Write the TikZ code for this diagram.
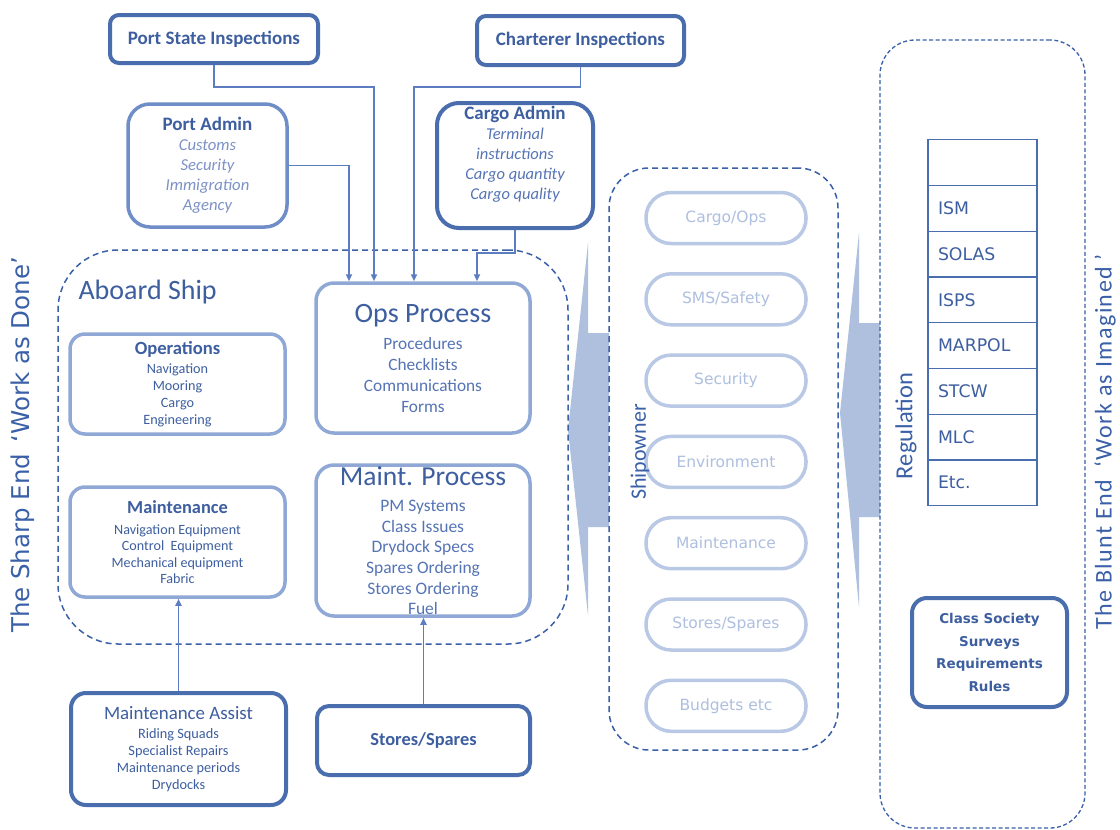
\documentclass[tikz,border=0pt]{standalone}
\usepackage{fontspec}
\setmainfont{Carlito}
\newfontfamily\verd{DejaVu Sans}
\newfontfamily\spaced[LetterSpace=6]{Carlito}
\usetikzlibrary{arrows.meta}
\definecolor{dkblue}{HTML}{4A6DAD}
\definecolor{mdblue}{HTML}{6F8DC6}
\definecolor{ltblue}{HTML}{8FA8D5}
\definecolor{pale}{HTML}{B9C8E5}
\definecolor{txtblue}{HTML}{3D5E9F}
\definecolor{itblue}{HTML}{7D92C6}
\definecolor{ctblue}{HTML}{5574B5}
\definecolor{palet}{HTML}{AEBFDF}
\definecolor{dashc}{HTML}{3A60A8}
\definecolor{fillc}{HTML}{AFC0DF}
\definecolor{linkc}{HTML}{5C7DBF}
\begin{document}
\begin{tikzpicture}[x=1pt,y=-1pt,
    box/.style={draw, line width=3.5pt, rounded corners=18pt, align=center, inner sep=0pt, text=txtblue},
    dkbox/.style={box, draw=dkblue, line width=4pt},
    ltbox/.style={box, draw=ltblue},
    pill/.style={draw=pale, line width=3.5pt, rounded corners=25pt, minimum width=160, minimum height=51,
      text=palet, font=\verd\fontsize{15.5}{18}\selectfont},
    cell/.style={draw=dkblue, line width=1.3pt, minimum width=109, minimum height=45.75, text width=89,
      inner xsep=10pt, align=left, text=txtblue, font=\verd\fontsize{17.3}{20}\selectfont},
    zone/.style={draw=dashc, line width=1.5pt, dash pattern=on 6pt off 4pt},
    link/.style={draw=linkc, line width=1.8pt, -{Triangle[length=7pt,width=6pt]}},
    side/.style={rotate=90, text=dashc}]
  \useasboundingbox (0,0) rectangle (1120,830);
  \fill[white] (0,0) rectangle (1120,830);
  \fill[fillc] (609,333) -- (588,333) -- (588,243) -- (568,430) -- (588,615) -- (588,527) -- (609,527) -- cycle;
  \fill[fillc] (880,323) -- (859,323) -- (859,233) -- (840,413) -- (859,607) -- (859,517) -- (880,517) -- cycle;
  \node[zone, rounded corners=60pt, minimum width=510, minimum height=394] (ship) at (313,447) {};
  \node[zone, rounded corners=40pt, minimum width=229, minimum height=582] (owner) at (723.5,459) {};
  \node[zone, line width=1.3pt, dash pattern=on 4pt off 2.5pt, rounded corners=35pt, minimum width=205, minimum height=788] (reg) at (982.5,434) {};
  \node[text=txtblue, anchor=west, font=\fontsize{28}{32}\selectfont] (shiplbl) at (75,292) {Aboard Ship};
  \node[dkbox, rounded corners=9pt, minimum width=208, minimum height=48, font=\bfseries\fontsize{19}{22}\selectfont] (psi) at (214,39) {Port State Inspections};
  \node[dkbox, rounded corners=9pt, minimum width=207, minimum height=49, font=\bfseries\fontsize{19}{22}\selectfont] (chi) at (580.5,40.5) {Charterer Inspections};
  \node[box, draw=mdblue, rounded corners=22pt, minimum width=159, minimum height=123, text=itblue, font=\itshape\fontsize{16.7}{20}\selectfont] (padm) at (207.5,165.5)
    {{\upshape\bfseries\color{txtblue}\fontsize{19}{20}\selectfont Port Admin}\\ Customs\\ Security\\ Immigration\\ Agency};
  \node[dkbox, rounded corners=22pt, minimum width=156, minimum height=125, text=ctblue, font=\itshape\fontsize{16.5}{20}\selectfont] (cadm) at (515,165.5)
    {{\upshape\bfseries\color{txtblue}\fontsize{19}{20}\selectfont Cargo Admin}\\ Terminal\\ instructions\\ Cargo quantity\\ Cargo quality\\ \strut};
  \node[ltbox, minimum width=214, minimum height=150, text=ctblue, font=\fontsize{17.3}{21}\selectfont] (ops) at (423,358)
    {{\color{txtblue}\fontsize{28}{30}\selectfont Ops Process}\\[6pt] Procedures\\ Checklists\\ Communications\\ Forms};
  \node[ltbox, minimum width=214, minimum height=151, text=ctblue, font=\fontsize{17.5}{20.6}\selectfont] (mproc) at (423,540.5)
    {{\color{txtblue}\fontsize{27.5}{30}\selectfont Maint. Process}\\[6pt] PM Systems\\ Class Issues\\ Drydock Specs\\ Spares Ordering\\ Stores Ordering\\ Fuel};
  \node[ltbox, rounded corners=15pt, minimum width=215, minimum height=100, font=\fontsize{14.2}{17}\selectfont] (oper) at (177.5,384)
    {{\bfseries\fontsize{18.6}{20}\selectfont Operations}\\[2pt] Navigation\\ Mooring\\ Cargo\\ Engineering};
  \node[ltbox, rounded corners=15pt, minimum width=215, minimum height=110, font=\fontsize{14.1}{16.5}\selectfont] (mnt) at (177.5,542)
    {{\bfseries\fontsize{18.4}{20}\selectfont Maintenance}\\[4.5pt] Navigation Equipment\\ Control\ \ Equipment\\ Mechanical equipment\\ Fabric};
  \node[dkbox, rounded corners=15pt, minimum width=215, minimum height=112, font=\fontsize{14.3}{17}\selectfont] (massist) at (178.5,749)
    {{\fontsize{18.9}{20}\selectfont Maintenance Assist}\\[2pt] Riding Squads\\ Specialist Repairs\\ Maintenance periods\\ Drydocks};
  \node[dkbox, rounded corners=12pt, minimum width=213, minimum height=69, font=\bfseries\fontsize{18.4}{22}\selectfont] (stores) at (423.5,740.5) {Stores/Spares};
  \node[dkbox, rounded corners=15pt, minimum width=155, minimum height=109, font=\verd\bfseries\fontsize{13.5}{22.7}\selectfont] (cls) at (989.5,652.5)
    {Class Society\\ Surveys\\ Requirements\\ Rules};
  \foreach \t [count=\i] in {Cargo/Ops,SMS/Safety,Security,Environment,Maintenance,Stores/Spares,Budgets etc}
    \node[pill] (so\i) at (726,136.7+81.3*\i) {\t};
  \node[cell, anchor=north] (r0) at (982.5,139) {};
  \foreach \t [count=\i] in {ISM,SOLAS,ISPS,MARPOL,STCW,MLC,Etc.}
    \node[cell, anchor=north] (r\i) at (982.5,139+45.75*\i) {\t};
  \draw[link] (psi) -- (psi |- 0,87) -| ([xshift=-49pt]ops.north);
  \draw[link] (chi) -- (chi |- 0,87) -| ([xshift=-9pt]ops.north);
  \draw[link] (padm.east) -| ([xshift=-74pt]ops.north);
  \draw[link] (cadm) -- (cadm |- 0,253) -| ([xshift=54pt]ops.north);
  \draw[link] (massist.north) -- (massist.north |- mnt.south);
  \draw[link] (stores.north) -- (stores.north |- mproc.south);
  \node[side, font=\verd\fontsize{24.5}{28}\selectfont] (sharp) at (23,445) {The Sharp End\hspace{11pt}‘Work as Done’};
  \node[side, font=\fontsize{22}{26}\selectfont] (ownlbl) at (640,452) {Shipowner};
  \node[side, font=\fontsize{24.5}{28}\selectfont] (reglbl) at (906,426) {Regulation};
  \node[side, inner sep=0pt, font=\spaced\fontsize{24}{28}\selectfont] (blunt) at (1105,442) {The Blunt End\hspace{12pt}‘Work as Imagined ’};
\end{tikzpicture}
\end{document}
